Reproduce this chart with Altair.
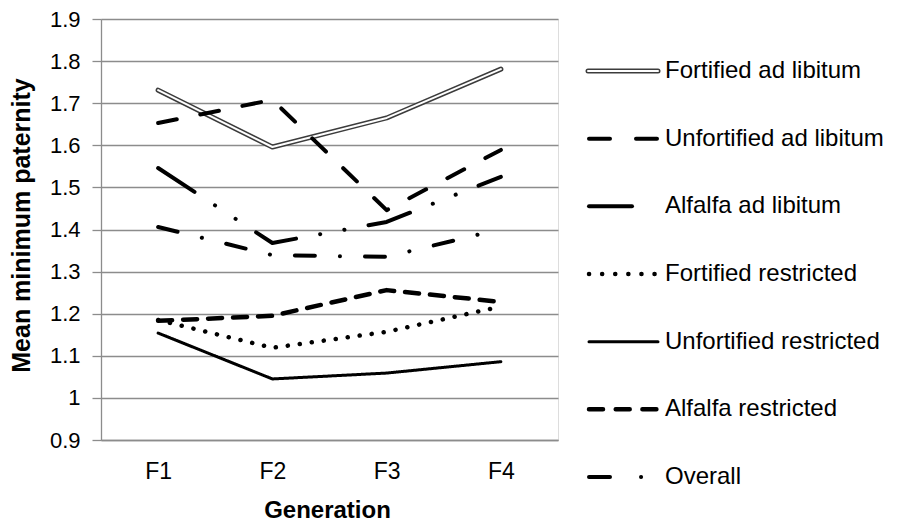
import altair as alt
import pandas as pd

# ---------------- data ----------------
generations = ["F1", "F2", "F3", "F4"]
series_names = [
    "Fortified ad libitum",
    "Unfortified ad libitum",
    "Alfalfa ad libitum",
    "Fortified restricted",
    "Unfortified restricted",
    "Alfalfa restricted",
    "Overall",
]
fortified_ad_lib = [1.731, 1.596, 1.665, 1.781]
unfortified_ad_lib = [1.653, 1.708, 1.446, 1.589]
alfalfa_ad_lib = [1.546, 1.368, 1.418, 1.525]
fortified_restricted = [1.185, 1.119, 1.157, 1.217]
unfortified_restricted = [1.154, 1.045, 1.059, 1.086]
alfalfa_restricted = [1.183, 1.195, 1.256, 1.228]
overall = [1.406, 1.339, 1.335, 1.401]
y_ticks = [0.9, 1.0, 1.1, 1.2, 1.3, 1.4, 1.5, 1.6, 1.7, 1.8, 1.9]

values_by_series = [
    fortified_ad_lib, unfortified_ad_lib, alfalfa_ad_lib,
    fortified_restricted, unfortified_restricted, alfalfa_restricted, overall,
]

# ---------------- styles ----------------
FONT = "Liberation Sans"
line_dash = {
    "Unfortified ad libitum": [19, 24],
    "Alfalfa ad libitum": [43.5, 24.5, 0.1, 24.5, 0.1, 24.5],
    "Fortified restricted": [0.1, 12],
    "Unfortified restricted": [1, 0],
    "Alfalfa restricted": [14, 11],
    "Overall": [20, 25, 0.1, 25],
}
legend_dash = {
    "Unfortified ad libitum": [21, 26],
    "Alfalfa ad libitum": [43, 200],
    "Fortified restricted": [0.1, 13],
    "Unfortified restricted": [1, 0],
    "Alfalfa restricted": [14, 12.7],
    "Overall": [21, 31, 0.1, 60],
}
line_width = {
    "Unfortified ad libitum": 4,
    "Alfalfa ad libitum": 4,
    "Fortified restricted": 4.5,
    "Unfortified restricted": 3,
    "Alfalfa restricted": 4.5,
    "Overall": 4,
}

rows = []
for name, vals in zip(series_names, values_by_series):
    for g, v in zip(generations, vals):
        rows.append({"generation": g, "series": name, "value": v})
df = pd.DataFrame(rows)
legend_df = pd.DataFrame({"series": series_names})

x_enc = alt.X(
    "generation:N",
    scale=alt.Scale(type="point", domain=generations, padding=0.5),
    axis=alt.Axis(
        title="Generation",
        labelAngle=0,
        ticks=False,
        tickSize=0,
        labelPadding=20,
        labelBaseline="top",
        labelFontSize=23,
        labelFont=FONT,
        labelColor="#000000",
        titleFont=FONT,
        titleFontSize=24,
        titleFontWeight="bold",
        titleColor="#000000",
        titleX=226,
        titleY=77,
        titleBaseline="alphabetic",
        titleAlign="center",
        domain=True,
        domainColor="#8c8c8c",
        domainWidth=1.3,
        grid=False,
    ),
)
y_enc = alt.Y(
    "value:Q",
    scale=alt.Scale(domain=[0.9, 1.9], nice=False, zero=False),
    axis=alt.Axis(
        title="Mean minimum paternity",
        values=y_ticks,
        format="~g",
        labelFontSize=22,
        labelFont=FONT,
        labelColor="#000000",
        labelPadding=12,
        tickSize=9,
        tickColor="#8c8c8c",
        tickWidth=1.3,
        domainColor="#8c8c8c",
        domainWidth=1.3,
        grid=True,
        gridColor="#8c8c8c",
        gridWidth=1.3,
        titleFont=FONT,
        titleFontSize=25,
        titleFontWeight="bold",
        titleColor="#000000",
        titleAngle=270,
        titleX=-72,
        titleY=206,
        titleAlign="center",
        titleBaseline="alphabetic",
    ),
)

base = alt.Chart(df)
line_layers = []
# double line (drawn first)
fal = base.transform_filter(alt.datum.series == "Fortified ad libitum")
line_layers.append(
    fal.mark_line(color="#3c3c3c", strokeWidth=5, strokeCap="round", strokeJoin="round").encode(x=x_enc, y=y_enc)
)
line_layers.append(
    fal.mark_line(color="#ffffff", strokeWidth=2, strokeCap="round", strokeJoin="round").encode(x=x_enc, y=y_enc)
)
for name in series_names[1:]:
    line_layers.append(
        base.transform_filter(alt.datum.series == name)
        .mark_line(
            color="#000000",
            strokeWidth=line_width[name],
            strokeDash=line_dash[name],
            strokeCap="round",
            strokeJoin="round",
        )
        .encode(x=x_enc, y=y_enc)
    )
lines = alt.layer(*line_layers)

legend_scale = alt.Scale(type="point", domain=series_names, range=[52, 458], padding=0)
ly = alt.Y("series:N", scale=legend_scale, axis=None)
lbase = alt.Chart(legend_df)
legend_layers = []
lf = lbase.transform_filter(alt.datum.series == "Fortified ad libitum")
legend_layers.append(
    lf.mark_rule(color="#3c3c3c", strokeWidth=5, strokeCap="round").encode(
        x=alt.value(487), x2=alt.value(557), y=ly
    )
)
legend_layers.append(
    lf.mark_rule(color="#ffffff", strokeWidth=2, strokeCap="round").encode(
        x=alt.value(487), x2=alt.value(557), y=ly
    )
)
for name in series_names[1:]:
    legend_layers.append(
        lbase.transform_filter(alt.datum.series == name)
        .mark_rule(
            color="#000000",
            strokeWidth=line_width[name],
            strokeDash=legend_dash[name],
            strokeCap="round",
        )
        .encode(x=alt.value(488), x2=alt.value(557), y=ly)
    )
legend_layers.append(
    lbase.mark_text(align="left", baseline="middle", fontSize=24, font=FONT, color="#000000").encode(
        x=alt.value(564), y=ly, text="series:N"
    )
)
legend = alt.layer(*legend_layers)

chart = (
    alt.layer(lines, legend)
    .resolve_scale(y="independent")
    .properties(
        width=457,
        height=421,
        autosize=alt.AutoSizeParams(type="none"),
        padding={"left": 93, "top": 11, "right": 337, "bottom": 83},
    )
    .configure_view(stroke=None)
    .configure(background="#ffffff")
)

chart.save("out.html", embed_options={"renderer": "svg", "actions": False})
